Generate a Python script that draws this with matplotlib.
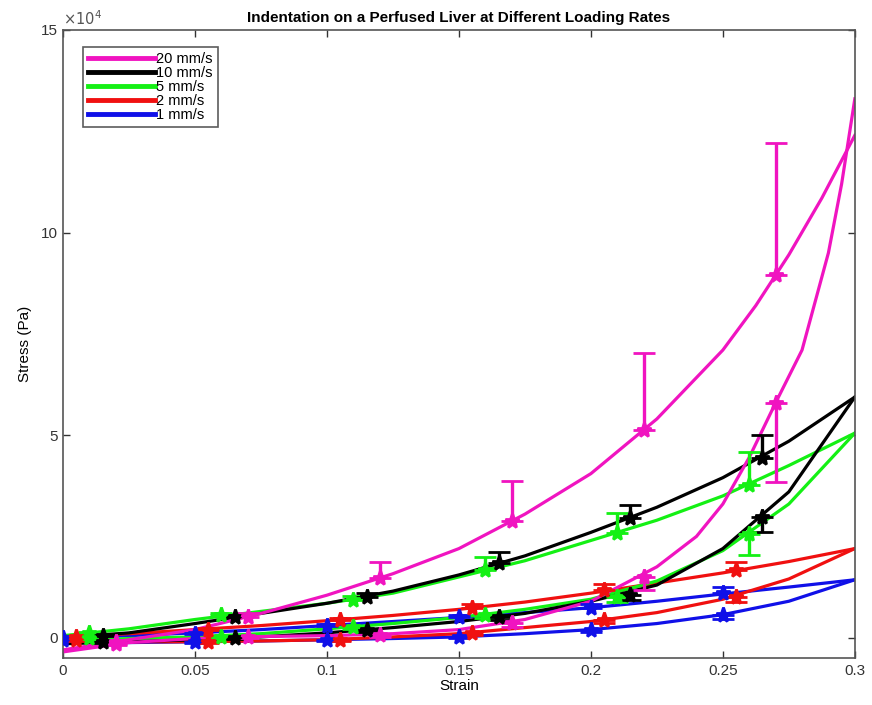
import matplotlib.pyplot as plt

plt.rcParams['font.family'] = ['Liberation Sans', 'DejaVu Sans']

# stress values are in units of 1e4 Pa
rates = ['20 mm/s', '10 mm/s', '5 mm/s', '2 mm/s', '1 mm/s']
colors = ['#f014c0', '#000000', '#14f014', '#f01010', '#1010e8']

grid = [0, 0.025, 0.05, 0.075, 0.1, 0.125, 0.15, 0.175, 0.2, 0.225, 0.25, 0.275, 0.3]

# fitted curves, loading (upper branch)
load_curve = {
    '10 mm/s': [0.0, 0.12, 0.35, 0.6, 0.85, 1.15, 1.55, 2.02, 2.6, 3.22, 3.95, 4.85, 5.94],
    '5 mm/s':  [0.05, 0.22, 0.45, 0.65, 0.85, 1.1, 1.5, 1.9, 2.4, 2.9, 3.5, 4.25, 5.05],
    '2 mm/s':  [0.0, 0.1, 0.2, 0.3, 0.42, 0.55, 0.7, 0.88, 1.1, 1.35, 1.6, 1.88, 2.2],
    '1 mm/s':  [0.0, 0.05, 0.12, 0.2, 0.3, 0.4, 0.5, 0.62, 0.74, 0.9, 1.08, 1.25, 1.43],
}
# fitted curves, unloading (lower branch)
unload_curve = {
    '10 mm/s': [-0.15, -0.1, -0.05, 0.02, 0.12, 0.25, 0.4, 0.6, 0.9, 1.3, 2.2, 3.6, 5.94],
    '5 mm/s':  [-0.1, -0.02, 0.02, 0.1, 0.22, 0.35, 0.5, 0.7, 0.95, 1.4, 2.15, 3.3, 5.05],
    '2 mm/s':  [-0.1, -0.1, -0.1, -0.08, -0.05, 0.02, 0.1, 0.25, 0.4, 0.62, 0.95, 1.45, 2.2],
    '1 mm/s':  [-0.1, -0.12, -0.1, -0.08, -0.05, -0.02, 0.02, 0.1, 0.2, 0.35, 0.57, 0.9, 1.43],
}
# 20 mm/s curves bend sharply near the end, so they get extra points there
pink_load_strain = [0, 0.025, 0.05, 0.075, 0.1, 0.125, 0.15, 0.175, 0.2, 0.225, 0.25,
                    0.2625, 0.275, 0.2875, 0.3]
pink_load_stress = [-0.3, -0.05, 0.2, 0.6, 1.05, 1.58, 2.2, 3.05, 4.05, 5.4, 7.1,
                    8.2, 9.45, 10.85, 12.4]
pink_unload_strain = [0, 0.025, 0.05, 0.075, 0.1, 0.125, 0.15, 0.175, 0.2, 0.225, 0.24,
                      0.25, 0.26, 0.27, 0.28, 0.29, 0.295, 0.3]
pink_unload_stress = [-0.35, -0.12, -0.02, 0.03, 0.05, 0.1, 0.2, 0.45, 0.9, 1.75, 2.5,
                      3.3, 4.45, 5.8, 7.1, 9.5, 11.2, 13.3]

# measured points
pt_strain = {
    '20 mm/s': [0.02, 0.07, 0.12, 0.17, 0.22, 0.27],
    '10 mm/s': [0.015, 0.065, 0.115, 0.165, 0.215, 0.265],
    '5 mm/s':  [0.01, 0.06, 0.11, 0.16, 0.21, 0.26],
    '2 mm/s':  [0.005, 0.055, 0.105, 0.155, 0.205, 0.255],
    '1 mm/s':  [0.0, 0.05, 0.1, 0.15, 0.2, 0.25],
}
pt_load = {
    '20 mm/s': [-0.1, 0.52, 1.48, 2.88, 5.12, 8.94],
    '10 mm/s': [0.05, 0.52, 1.01, 1.85, 2.96, 4.43],
    '5 mm/s':  [0.12, 0.55, 0.94, 1.67, 2.58, 3.77],
    '2 mm/s':  [0.02, 0.2, 0.44, 0.74, 1.18, 1.67],
    '1 mm/s':  [0.0, 0.1, 0.3, 0.5, 0.74, 1.11],
}
err_load = {
    '20 mm/s': [0.05, 0.1, 0.39, 0.99, 1.9, 3.26],
    '10 mm/s': [0.02, 0.05, 0.1, 0.27, 0.32, 0.57],
    '5 mm/s':  [0.02, 0.05, 0.1, 0.33, 0.5, 0.81],
    '2 mm/s':  [0.02, 0.03, 0.05, 0.08, 0.15, 0.2],
    '1 mm/s':  [0.02, 0.02, 0.03, 0.05, 0.08, 0.15],
}
pt_unload = {
    '20 mm/s': [-0.15, 0.03, 0.07, 0.37, 1.5, 5.79],
    '10 mm/s': [-0.1, 0.0, 0.2, 0.52, 1.06, 2.98],
    '5 mm/s':  [0.0, 0.02, 0.27, 0.57, 1.0, 2.55],
    '2 mm/s':  [-0.05, -0.1, -0.05, 0.12, 0.44, 1.01],
    '1 mm/s':  [-0.05, -0.1, -0.05, 0.02, 0.2, 0.57],
}
err_unload = {
    '20 mm/s': [0.02, 0.03, 0.05, 0.1, 0.32, 1.95],
    '10 mm/s': [0.02, 0.02, 0.05, 0.08, 0.12, 0.37],
    '5 mm/s':  [0.02, 0.02, 0.05, 0.08, 0.11, 0.5],
    '2 mm/s':  [0.02, 0.02, 0.03, 0.05, 0.08, 0.12],
    '1 mm/s':  [0.02, 0.02, 0.02, 0.03, 0.05, 0.1],
}

fig = plt.figure(figsize=(8.72, 7.05), dpi=100)
ax = fig.add_axes([0.0723, 0.0667, 0.908, 0.8908])

handles = {}
# draw slow rates first so pink ends on top
for rate, col in reversed(list(zip(rates, colors))):
    if rate == '20 mm/s':
        ln, = ax.plot(pink_load_strain, pink_load_stress, color=col, lw=2.3, zorder=2)
        ax.plot(pink_unload_strain, pink_unload_stress, color=col, lw=2.3, zorder=2)
    else:
        ln, = ax.plot(grid, load_curve[rate], color=col, lw=2.3, zorder=2)
        ax.plot(grid, unload_curve[rate], color=col, lw=2.3, zorder=2)
    handles[rate] = ln
    zeros = [0] * len(pt_strain[rate])
    ax.errorbar(pt_strain[rate], pt_load[rate], yerr=[zeros, err_load[rate]],
                fmt='*', color=col, ms=11, mew=2, elinewidth=2.4, capsize=8,
                capthick=2.8, zorder=3)
    ax.errorbar(pt_strain[rate], pt_unload[rate], yerr=[err_unload[rate], zeros],
                fmt='*', color=col, ms=11, mew=2, elinewidth=2.4, capsize=8,
                capthick=2.8, zorder=3)

ax.set_xlim(0, 0.3)
ax.set_ylim(-0.5, 15)
ax.set_xticks([0, 0.05, 0.1, 0.15, 0.2, 0.25, 0.3])
ax.set_xticklabels(['0', '0.05', '0.1', '0.15', '0.2', '0.25', '0.3'])
ax.set_yticks([0, 5, 10, 15])
ax.set_yticklabels(['0', '5', '10', '15'])
ax.tick_params(direction='in', top=True, right=True, length=5, width=1,
               labelsize=11, colors='#333333', pad=4)
for sp in ax.spines.values():
    sp.set_color('#555555')
    sp.set_linewidth(1.2)

ax.text(0.0, 1.003, r'$\times 10^4$', transform=ax.transAxes, ha='left', va='bottom',
        fontsize=10.5, color='#555555')
ax.set_title('Indentation on a Perfused Liver at Different Loading Rates',
             fontsize=11, fontweight='bold', pad=6)
ax.set_xlabel('Strain', fontsize=11, labelpad=1)
ax.set_ylabel('Stress (Pa)', fontsize=11, labelpad=6)

leg = ax.legend([handles[r] for r in rates], rates, loc='upper left',
                bbox_to_anchor=(0.016, 0.985), fontsize=10.5, handlelength=4.6,
                handletextpad=0.05, labelspacing=0.0, borderpad=0.35,
                frameon=True, fancybox=False, edgecolor='#333333')
for h in leg.get_lines():
    h.set_linewidth(3.5)
leg.get_frame().set_linewidth(1.2)

fig.savefig('out.png', dpi=100)
